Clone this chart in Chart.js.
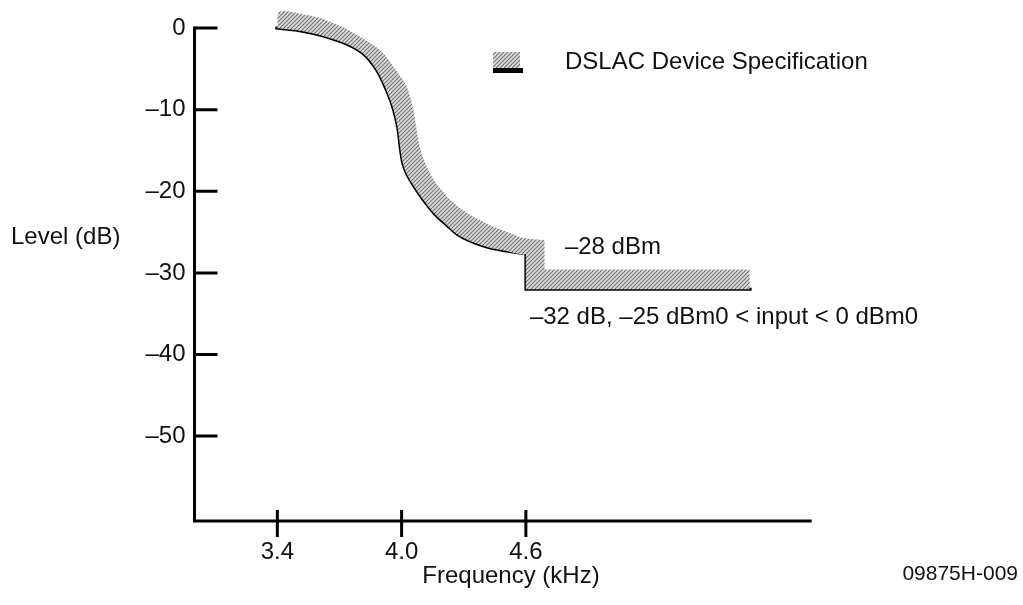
<!DOCTYPE html>
<html>
<head>
<meta charset="utf-8">
<script src="https://cdn.jsdelivr.net/npm/chart.js@4.4.1/dist/chart.umd.min.js"></script>
<style>
  html, body { margin: 0; padding: 0; background: #fff; }
  #chart { display: block; }
</style>
</head>
<body>
<canvas id="chart" width="1023" height="605"></canvas>
<script>
// spec limit line (kHz, dB)
const lineFreq = [3.39, 3.50, 3.57, 3.65, 3.73, 3.79, 3.83, 3.865, 3.89, 3.913, 3.933, 3.955, 3.97, 3.983, 3.993, 4.005, 4.025, 4.06, 4.10, 4.16, 4.22, 4.27, 4.34, 4.42, 4.50, 4.60]
const lineLevel = [0.0, -0.3, -0.65, -1.2, -1.9, -2.7, -3.5, -4.6, -5.6, -6.8, -8.0, -9.5, -10.9, -12.5, -14.6, -16.5, -17.9, -19.4, -20.9, -22.8, -24.2, -25.3, -26.2, -26.9, -27.3, -27.7]
const stepFreq = [4.60, 4.60, 5.69]
const stepLevel = [-27.7, -32.0, -32.0]

// outer edge of the hatched band, curved part
const bandFreq = [3.40, 3.41, 3.54, 3.61, 3.67, 3.74, 3.80, 3.85, 3.896, 3.93, 3.96, 3.995, 4.025, 4.043, 4.057, 4.069, 4.081, 4.096, 4.121, 4.16, 4.195, 4.24, 4.29, 4.36, 4.43, 4.50, 4.58, 4.60]
const bandLevel = [0.0, 2.0, 1.6, 1.2, 0.6, -0.2, -1.07, -1.9, -2.7, -3.68, -4.74, -5.94, -7.19, -8.58, -10.05, -11.9, -13.73, -15.3, -17.0, -18.8, -19.9, -21.2, -22.2, -23.3, -24.2, -24.9, -25.7, -25.8]
// band around the step and the flat part
const bandStepFreq = [4.60, 4.69, 4.69, 5.68, 5.68, 4.60]
const bandStepLevel = [-25.8, -26.0, -29.6, -29.6, -32.0, -32.0]

const xTicks = [3.4, 4.0, 4.6]
const yTicks = [0, -10, -20, -30, -40, -50]

const legendText = 'DSLAC Device Specification'
const xTitle = 'Frequency (kHz)'
const yTitle = 'Level (dB)'
const notes = ['\u201328 dBm', '\u201332 dB, \u201325 dBm0 < input < 0 dBm0']
const figId = '09875H-009'

const FONT = "'Liberation Sans', Arial, Helvetica, sans-serif"

function hatch() {
    const c = document.createElement('canvas')
    c.width = 4
    c.height = 4
    const g = c.getContext('2d')
    g.fillStyle = '#dedede'
    g.fillRect(0, 0, 4, 4)
    g.strokeStyle = '#727272'
    g.lineWidth = 1.1
    g.beginPath()
    g.moveTo(0, 4); g.lineTo(4, 0)
    g.moveTo(-1, 1); g.lineTo(1, -1)
    g.moveTo(3, 5); g.lineTo(5, 3)
    g.stroke()
    return g.createPattern(c, 'repeat')
}
const pattern = hatch()

const pts = (xs, ys) => xs.map((v, i) => ({ x: v, y: ys[i] }))

// closed outline of the curved band: outer edge forward, limit line back
const bandShape = pts(bandFreq, bandLevel).concat(pts(lineFreq, lineLevel).reverse())

const decor = {
    id: 'decor',
    afterDraw(chart) {
        const { ctx, chartArea: a, scales: { x, y } } = chart
        ctx.save()
        ctx.strokeStyle = '#000'
        ctx.lineWidth = 3
        ctx.lineCap = 'butt'
        ctx.lineJoin = 'miter'

        // axes
        const top = y.getPixelForValue(yTicks[0])
        ctx.beginPath()
        ctx.moveTo(a.left, top - 1.5)
        ctx.lineTo(a.left, a.bottom)
        ctx.lineTo(a.right, a.bottom)
        ctx.stroke()
        ctx.beginPath()
        yTicks.forEach(v => {
            const p = y.getPixelForValue(v)
            ctx.moveTo(a.left, p)
            ctx.lineTo(a.left + 23, p)
        })
        xTicks.forEach(v => {
            const p = x.getPixelForValue(v)
            ctx.moveTo(p, a.bottom - 11)
            ctx.lineTo(p, a.bottom + 16)
        })
        ctx.stroke()

        // legend
        ctx.fillStyle = pattern
        ctx.fillRect(493, 52, 27, 16)
        ctx.fillStyle = '#000'
        ctx.fillRect(493, 68, 30, 5)

        ctx.fillStyle = '#111'
        ctx.font = `24px ${FONT}`
        ctx.textBaseline = 'middle'
        ctx.textAlign = 'left'
        ctx.fillText(legendText, 565, 62)

        // notes near the step
        const sx = x.getPixelForValue(stepFreq[0])
        ctx.fillText(notes[0], sx + 39, y.getPixelForValue(-28) - 9)
        ctx.fillText(notes[1], sx + 4, y.getPixelForValue(stepLevel[1]) + 28)

        // titles
        ctx.fillText(yTitle, 11, 237)
        ctx.textAlign = 'center'
        ctx.fillText(xTitle, 511, 576)
        ctx.textAlign = 'right'
        ctx.font = `21px ${FONT}`
        ctx.fillText(figId, 1018, 574)
        ctx.restore()
    }
}

new Chart(document.getElementById('chart'), {
    type: 'line',
    data: {
        datasets: [{
            data: bandShape,
            fill: 'shape',
            backgroundColor: pattern,
            borderWidth: 0,
            pointRadius: 0,
            tension: 0.3
        }, {
            data: pts(bandStepFreq, bandStepLevel),
            fill: 'shape',
            backgroundColor: pattern,
            borderWidth: 0,
            pointRadius: 0,
            tension: 0
        }, {
            data: pts(lineFreq, lineLevel),
            borderColor: '#000',
            borderWidth: 3,
            pointRadius: 0,
            tension: 0.3,
            fill: false
        }, {
            data: pts(stepFreq, stepLevel),
            borderColor: '#000',
            borderWidth: 3,
            pointRadius: 0,
            tension: 0,
            fill: false,
            borderJoinStyle: 'miter'
        }]
    },
    options: {
        responsive: false,
        animation: false,
        devicePixelRatio: 1,
        layout: { padding: { top: 6.8, right: 211.3, left: 0, bottom: 0 } },
        plugins: { legend: { display: false }, tooltip: { enabled: false } },
        scales: {
            x: {
                type: 'linear',
                min: 3.0,
                max: 5.98,
                grid: { display: false, drawTicks: false },
                border: { display: false },
                afterBuildTicks: s => { s.ticks = xTicks.map(v => ({ value: v })) },
                afterFit: s => { s.height = 84; s.paddingLeft = 0; s.paddingRight = 0 },
                ticks: {
                    padding: 17,
                    color: '#111',
                    font: { family: FONT, size: 24 },
                    maxRotation: 0,
                    callback: v => v.toFixed(1)
                }
            },
            y: {
                type: 'linear',
                min: -60.4,
                max: 2.6,
                grid: { display: false, drawTicks: false },
                border: { display: false },
                afterBuildTicks: s => { s.ticks = yTicks.map(v => ({ value: v })) },
                afterFit: s => { s.width = 194.5; s.paddingTop = 0; s.paddingBottom = 0 },
                ticks: {
                    padding: 9,
                    color: '#111',
                    font: { family: FONT, size: 24 },
                    callback: v => v === 0 ? '0' : '\u2013' + Math.abs(v)
                }
            }
        }
    },
    plugins: [decor]
})
</script>
</body>
</html>
